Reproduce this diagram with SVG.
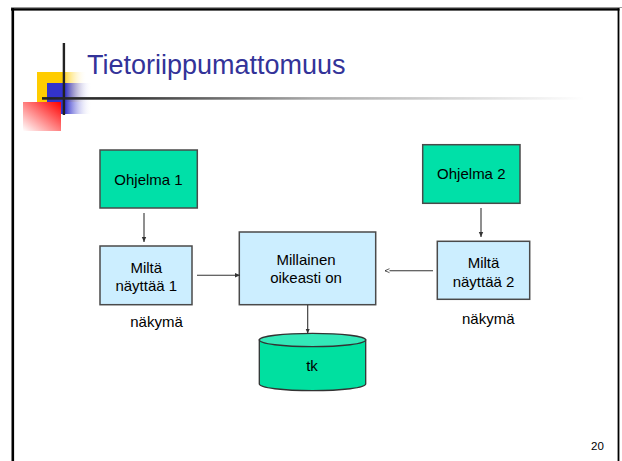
<svg xmlns="http://www.w3.org/2000/svg" width="622" height="461" viewBox="0 0 622 461">
<style>
  .t { font-family: "Liberation Sans", Arial, sans-serif; fill: #000; text-anchor: middle; }
  .prog { fill: #00E0A8; stroke: #4a4a4a; stroke-width: 1.5; }
  .view { fill: #CCEEFF; stroke: #4a4a4a; stroke-width: 1.5; }
  .conn { stroke: #333; stroke-width: 1.1; fill: none; }
</style>
<defs>
  <linearGradient id="gY" x1="0" y1="0" x2="1" y2="0">
    <stop offset="0" stop-color="#FFCC00"/>
    <stop offset="0.5" stop-color="#FFCC00"/>
    <stop offset="1" stop-color="#FFFFFF" stop-opacity="0"/>
  </linearGradient>
  <linearGradient id="gB" x1="0" y1="0" x2="1" y2="0">
    <stop offset="0" stop-color="#3333CC"/>
    <stop offset="0.4" stop-color="#3333CC"/>
    <stop offset="1" stop-color="#FFFFFF" stop-opacity="0"/>
  </linearGradient>
  <linearGradient id="gR" x1="1" y1="0" x2="0" y2="1">
    <stop offset="0" stop-color="#FF0000"/>
    <stop offset="1" stop-color="#FFFFFF"/>
  </linearGradient>
  <linearGradient id="gL" gradientUnits="userSpaceOnUse" x1="42" y1="0" x2="585" y2="0">
    <stop offset="0" stop-color="#222"/>
    <stop offset="0.15" stop-color="#333"/>
    <stop offset="0.5" stop-color="#aaa"/>
    <stop offset="1" stop-color="#fff"/>
  </linearGradient>
  <marker id="ah" markerUnits="userSpaceOnUse" markerWidth="6" markerHeight="6" refX="5" refY="3" orient="auto">
    <path d="M0,0.8 L5,3 L0,5.2 Z" fill="#333"/>
  </marker>
  <marker id="ao" markerUnits="userSpaceOnUse" markerWidth="6" markerHeight="6" refX="5" refY="3" orient="auto">
    <path d="M0.5,1 L5,3 L0.5,5" fill="#fff" stroke="#333" stroke-width="0.8"/>
  </marker>
</defs>

<g id="frame">
  <rect x="0" y="0" width="622" height="461" fill="#fff"/>
  <rect x="11" y="7" width="611" height="1" fill="#999"/>
  <rect x="11" y="8.2" width="608.5" height="2.4" fill="#000"/>
  <rect x="11.5" y="8.2" width="2.6" height="453" fill="#000"/>
  <rect x="617.6" y="8.2" width="1.8" height="453" fill="#000"/>
</g>

<g id="logo">
  <rect x="37" y="72" width="50" height="30" fill="url(#gY)"/>
  <rect x="47" y="83" width="45" height="31" fill="url(#gB)"/>
  <rect x="23" y="102" width="38" height="29" fill="url(#gR)"/>
  <rect x="62.7" y="43" width="2.4" height="72" fill="#222"/>
  <rect x="42" y="97.1" width="543" height="2.6" fill="url(#gL)"/>
</g>

<g id="title">
  <text x="87" y="74" font-family="Liberation Sans, Arial, sans-serif" font-size="27" fill="#333399">Tietoriippumattomuus</text>
</g>

<g id="ohjelma1">
  <rect class="prog" x="100" y="150" width="97.3" height="58"/>
  <text class="t" x="148.5" y="185.3" font-size="15">Ohjelma 1</text>
</g>

<g id="ohjelma2">
  <rect class="prog" x="422.7" y="144.7" width="97.3" height="58.6"/>
  <text class="t" x="471.3" y="179.3" font-size="15">Ohjelma 2</text>
</g>

<g id="milta1">
  <rect class="view" x="100" y="246" width="92" height="58.7"/>
  <text class="t" x="146.3" y="272.7" font-size="15">Miltä</text>
  <text class="t" x="146.3" y="290.7" font-size="15">näyttää 1</text>
</g>

<g id="milta2">
  <rect class="view" x="437.3" y="241.3" width="92.4" height="58"/>
  <text class="t" x="483.5" y="267.7" font-size="15">Miltä</text>
  <text class="t" x="483.5" y="286.7" font-size="15">näyttää 2</text>
</g>

<g id="millainen">
  <rect class="view" x="239.3" y="232" width="136.4" height="72.7"/>
  <text class="t" x="306" y="265" font-size="15">Millainen</text>
  <text class="t" x="306" y="282.7" font-size="15">oikeasti on</text>
</g>

<g id="tk">
  <path d="M259.3,340 L259.3,384 A53.2,6.7 0 0 0 365.7,384 L365.7,340 Z" fill="#00E0A0" stroke="#333" stroke-width="1.3"/>
  <ellipse cx="312.5" cy="340" rx="53.2" ry="6.7" fill="#33E8B8" stroke="#333" stroke-width="1.3"/>
  <text class="t" x="312" y="371" font-size="15">tk</text>
</g>

<g id="labels">
  <text class="t" x="156.5" y="327.3" font-size="15">näkymä</text>
  <text class="t" x="488.3" y="324" font-size="15">näkymä</text>
  <text class="t" x="597.5" y="450" font-size="11.5">20</text>
</g>

<g id="connectors">
  <line class="conn" x1="144" y1="213" x2="144" y2="242" stroke-width="1.4" marker-end="url(#ah)"/>
  <line class="conn" x1="481" y1="208" x2="481" y2="237" marker-end="url(#ah)"/>
  <line class="conn" x1="197" y1="275.3" x2="240" y2="275.3" marker-end="url(#ah)"/>
  <line class="conn" x1="433" y1="270.7" x2="385" y2="270.7" stroke-width="1.3" marker-end="url(#ao)"/>
  <line class="conn" x1="307.7" y1="305" x2="307.7" y2="333.5" marker-end="url(#ah)"/>
</g>
</svg>
